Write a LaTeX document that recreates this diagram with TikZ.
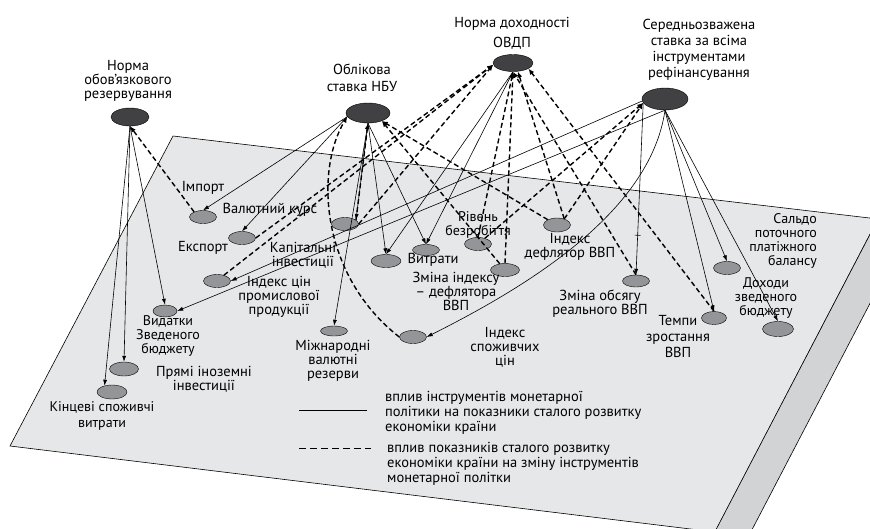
\documentclass[tikz,border=0pt]{standalone}
\usepackage{fontspec}
\setmainfont{PT Sans}
\usetikzlibrary{arrows.meta,shapes.geometric}

\definecolor{planegray}{RGB}{230,231,232}
\definecolor{stripgray}{RGB}{209,211,212}
\definecolor{instrgray}{RGB}{65,64,66}
\definecolor{indgray}{RGB}{147,149,152}

\begin{document}
\begin{tikzpicture}[x=1pt, y=-1pt,
  instr/.style={draw, ellipse, fill=instrgray, inner sep=0pt},
  ind/.style={draw, ellipse, fill=indgray, inner sep=0pt,
              minimum width=27pt, minimum height=13pt},
  lbl/.style={align=center, inner sep=0pt,
              font=\fontsize{14.5}{14}\selectfont},
  tight/.style={font=\fontsize{14}{14}\selectfont},
  infl/.style={draw, line width=0.6pt, -{Latex[length=6pt,width=4pt]}},
  fb/.style={draw, line width=1.4pt, dash pattern=on 5pt off 3pt,
             -{Latex[length=6pt,width=5pt]}},
  tickmark/.style={draw, rectangle, sloped, inner sep=0pt,
                   minimum width=0pt, minimum height=6pt}
]
  \path[use as bounding box] (0,0) rectangle (870,528);
  \clip (0,0) rectangle (870,528);

  % the plane of indicators
  \filldraw[fill=planegray, line width=0.6pt]
    (173,136) -- (878,219) -- (715,532) -- (10,446) -- cycle;
  \filldraw[fill=stripgray, line width=0.6pt]
    (878,219) -- (914,219) -- (744,545) -- (708,545) -- cycle;

  % instruments
  \node[instr, minimum width=38pt, minimum height=18pt] (nor)  at (130,117) {};
  \node[instr, minimum width=44pt, minimum height=20pt] (os)   at (368,113) {};
  \node[instr, minimum width=40pt, minimum height=17pt] (ovdp) at (513,63)  {};
  \node[instr, minimum width=46pt, minimum height=22pt] (sz)   at (665,99)  {};

  \node[lbl] (norL)  at (128,81) {Норма\\обов’язкового\\резервування};
  \node[lbl] (osL)   at (362,78) {Облікова\\[3pt]ставка НБУ};
  \node[lbl] (ovdpL) at (512,33) {Норма доходності\\[6pt]ОВДП};
  \node[lbl] (szL)   at (699,50) {Середньозважена\\[2pt]ставка за всіма\\[2pt]інструментами\\[2pt]рефінансування};

  % indicators
  \node[ind] (imp)  at (203,217) {};
  \node[ind] (val)  at (242,238) {};
  \node[ind] (exp)  at (217,281) {};
  \node[ind] (kap)  at (345,224) {};
  \node[ind, minimum width=30pt] (vytb) at (386,261) {};
  \node[ind, minimum height=11pt] (vyt) at (426,250) {};
  \node[ind] (riv)  at (478,244) {};
  \node[ind, minimum width=29pt] (zmi) at (505,270) {};
  \node[ind, minimum height=14pt] (defl) at (557,225) {};
  \node[ind, minimum height=12pt] (zmo) at (636,281) {};
  \node[ind] (spo)  at (413,337) {};
  \node[ind, minimum height=10pt] (mzh) at (334,331) {};
  \node[ind, minimum width=24pt, minimum height=12pt] (vyd) at (165,311) {};
  \node[ind, minimum width=29pt, minimum height=14pt] (pry) at (124,369) {};
  \node[ind, minimum width=30pt, minimum height=14pt] (kin) at (112,392) {};
  \node[ind, minimum width=25pt] (tem) at (714,318) {};
  \node[ind] (sal)  at (727,268) {};
  \node[ind, minimum width=31pt, minimum height=15pt] (doh) at (778,329) {};

  \node[lbl] (impL)  at (203,188) {Імпорт};
  \node[lbl] (valL)  at (270,210) {Валютний курс};
  \node[lbl] (expL)  at (203,248) {Експорт};
  \node[lbl] (kapL)  at (303,255) {Капітальні\\інвестиції};
  \node[lbl] (promL) at (279,297) {Індекс цін\\промислової\\продукції};
  \node[lbl, tight] (rivL) at (478,225) {Рівень\\безробіття};
  \node[lbl] (vytL)  at (433,260) {Витрати};
  \node[lbl] (zmiL)  at (456,291) {Зміна індексу\\– дефлятора\\ВВП};
  \node[lbl] (deflL) at (570,247) {Індекс\\дефлятор ВВП};
  \node[lbl] (zmoL)  at (600,304) {Зміна обсягу\\реального ВВП};
  \node[lbl] (spoL)  at (505,347) {Індекс\\споживчих\\цін};
  \node[lbl] (mzhL)  at (333,361) {Міжнародні\\валютні\\резерви};
  \node[lbl, tight] (vydL) at (168,336) {Видатки\\Зведеного\\бюджету};
  \node[lbl] (pryL)  at (204,379) {Прямі іноземні\\інвестиції};
  \node[lbl, tight] (kinL) at (102,416) {Кінцеві споживчі\\[2pt]витрати};
  \node[lbl] (temL)  at (678,336) {Темпи\\[2pt]зростання\\[2pt]ВВП};
  \node[lbl, tight, align=right, anchor=east] (salL) at (817,241)
    {Сальдо\\поточного\\платіжного\\балансу};
  \node[lbl, tight] (dohL) at (766,298) {Доходи\\зведеного\\бюджету};

  % influence of instruments
  \draw (nor.south) edge[infl] (vyd.north)
        (nor.south) edge[infl] (pry.north)
        (nor.south) edge[infl] (kin.140);
  \draw (os.190) edge[infl] (imp.north)
        (os.190) edge[infl] (val.north);
  \draw (os.south) edge[infl] (mzh.north)
        (os.south) edge[infl] (vytb.north)
        (os.south) edge[infl] (vyt.north)
        (os.south) edge[infl] (kap.20);
  \draw (ovdp.south) edge[infl] (vytb.north)
        (ovdp.south) edge[infl] (vyt.north);
  \draw (sz.185) edge[infl] (exp.east)
        (sz.south) edge[infl] (vyd.east);
  \draw (sz.190) edge[infl] node[tickmark, pos=.77] {} (zmo.north);
  \draw (sz.south) edge[infl] (tem.north)
        (sz.south) edge[infl] (sal.north)
        (sz.south) edge[infl] (doh.north);
  \draw[infl] (sz.south) .. controls (650,215) and (520,290) .. (spo.east);

  % feedback of indicators
  \draw (imp.150) edge[fb] (nor.south);
  \draw[fb] (spo.west) .. controls (320,275) and (315,170) .. (os.190);
  \draw (kap.20) edge[fb] (os.south)
        (kap.east) edge[fb] (ovdp.185);
  \draw (val.east) edge[fb] (ovdp.185)
        (exp.40) edge[fb] (ovdp.185);
  \draw (riv.north) edge[fb] (ovdp.south)
        (zmi.north) edge[fb] (ovdp.south)
        (zmo.north) edge[fb] (ovdp.south)
        (defl.40) edge[fb] (ovdp.300)
        (tem.north) edge[fb] (ovdp.340);
  \draw (defl.40) edge[fb] (sz.190)
        (riv.40) edge[fb] (sz.190);
  \draw (defl.150) edge[fb] (os.330)
        (zmi.130) edge[fb] (os.330);

  % legend
  \coordinate (solA) at (299,410);
  \coordinate (solB) at (367,410);
  \coordinate (dasA) at (299,448);
  \coordinate (dasB) at (371,448);
  \draw[line width=0.6pt] (solA) -- (solB);
  \draw[line width=0.6pt, dash pattern=on 7pt off 4pt] (dasA) -- (dasB);
  \node[lbl, align=left, anchor=west, font=\fontsize{14.5}{15}\selectfont] (legA) at (385,413)
    {вплив інструментів монетарної\\політики на показники сталого розвитку\\економіки країни};
  \node[lbl, align=left, anchor=west, font=\fontsize{14.5}{15}\selectfont] (legB) at (387,464)
    {вплив показників сталого розвитку\\економіки країни на зміну інструментів\\монетарної політки};
\end{tikzpicture}
\end{document}
